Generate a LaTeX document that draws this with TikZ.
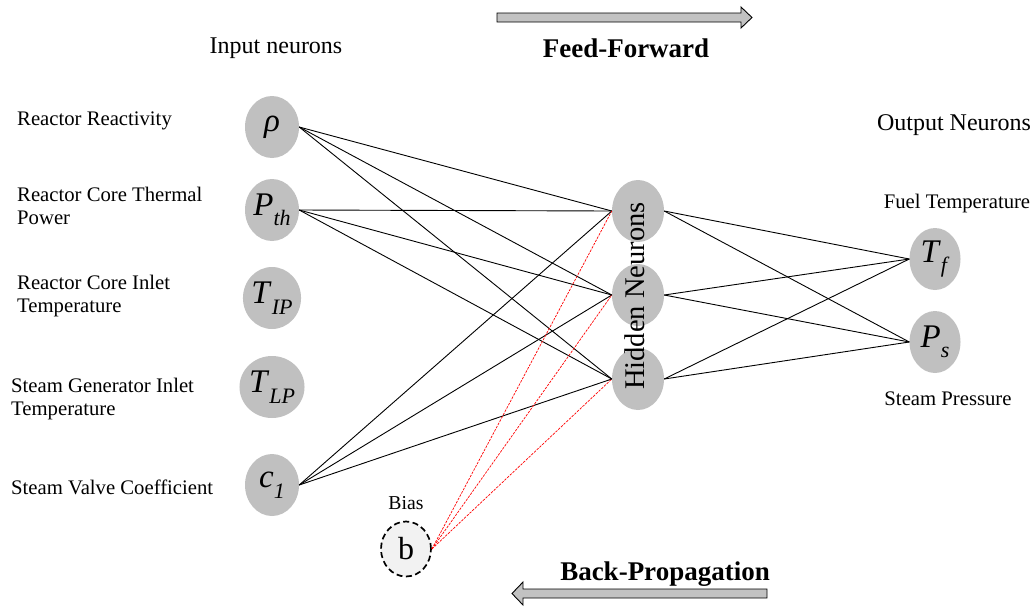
\documentclass[tikz,border=0pt]{standalone}
\usepackage{fontspec}
\setmainfont{Liberation Serif}
\usepackage{xcolor}
\definecolor{neurongray}{RGB}{192,192,192}
\definecolor{biasgray}{RGB}{242,242,242}
\definecolor{arrowgray}{RGB}{194,194,194}
\usepackage{tikz}
\usetikzlibrary{shapes.geometric}
\newcommand{\nsym}[2]{\textit{#1}\raisebox{-0.32em}{\fontsize{22}{22}\selectfont\textit{#2}}}

\begin{document}
\begin{tikzpicture}[x=1pt,y=-1pt,
        neuron/.style={ellipse,fill=neurongray,inner sep=0pt,minimum width=54pt,minimum height=62pt,font=\fontsize{33}{33}\selectfont},
        feature/.style={anchor=west,align=left,inner sep=0pt,font=\fontsize{20.7}{23.5}\selectfont},
        heading/.style={anchor=base,inner sep=0pt,font=\fontsize{24}{24}\selectfont},
        flow/.style={anchor=base,inner sep=0pt,font=\fontsize{27}{27}\selectfont\bfseries},
        link/.style={line width=0.9pt},
        biaslink/.style={red,line width=0.7pt,dash pattern=on 2.5pt off 1.2pt}]
        \useasboundingbox (0,0) rectangle (1035,606);

        % headings and flow arrows
        \node[heading] (tin) at (276,53) {Input neurons};
        \node[heading] (tout) at (954,130) {Output Neurons};
        \node[flow] (ff) at (626,57) {Feed-Forward};
        \node[flow] (bp) at (665,580) {Back-Propagation};
        \draw[fill=arrowgray,line width=0.9pt] (497,13) -- (741,13) -- (741,7) -- (752,17.5) -- (741,28) -- (741,22) -- (497,22) -- cycle;
        \draw[fill=arrowgray,line width=0.9pt] (767,589) -- (523,589) -- (523,582) -- (512,593.5) -- (523,605) -- (523,598) -- (767,598) -- cycle;

        % input side
        \node[feature] (f0) at (17,121) {Reactor Reactivity};
        \node[feature] (f1) at (17,206) {Reactor Core Thermal\\Power};
        \node[feature] (f2) at (17,296) {Reactor Core Inlet\\Temperature};
        \node[feature] (f3) at (11,399) {Steam Generator Inlet\\Temperature};
        \node[feature] (f4) at (11,487) {Steam Valve Coefficient};

        \node[neuron] (i0) at (272,127) {\textit{ρ}};
        \node[neuron] (i1) at (272,210) {\nsym{P}{th}};
        \node[neuron] (i2) at (272,298) {\nsym{T}{IP}};
        \node[neuron] (i3) at (272,387) {\nsym{T}{LP}};
        \node[neuron] (i4) at (272,485) {\nsym{c}{1}};

        % hidden layer
        \node[neuron,minimum width=52pt] (h0) at (638,211) {};
        \node[neuron,minimum width=52pt] (h1) at (638,295) {};
        \node[neuron,minimum width=52pt] (h2) at (638,379) {};

        % outputs
        \node[neuron,minimum width=51pt] (o0) at (935,259) {\nsym{T}{f}};
        \node[neuron,minimum width=51pt] (o1) at (935,342) {\nsym{P}{s}};
        \node[feature,anchor=center] (fo0) at (957,204) {Fuel Temperature};
        \node[feature,anchor=center] (fo1) at (948,399) {Steam Pressure};

        % bias
        \node[ellipse,draw,line width=1.7pt,dash pattern=on 6pt off 3.5pt,fill=biasgray,inner sep=0pt,minimum width=50pt,minimum height=55pt,font=\fontsize{32}{32}\selectfont] (b) at (406,549) {b};
        \node[feature,anchor=center,font=\fontsize{19.7}{20}\selectfont] (tb) at (406,503) {Bias};

        \draw[link] (i0.east) -- (h0.west);
        \draw[link] (i0.east) -- (h1.west);
        \draw[link] (i0.east) -- (h2.west);
        \draw[link] (i1.east) -- (h0.west);
        \draw[link] (i1.east) -- (h1.west);
        \draw[link] (i1.east) -- (h2.west);
        \draw[link] (i4.east) -- (h0.west);
        \draw[link] (i4.east) -- (h1.west);
        \draw[link] (i4.east) -- (h2.west);
        \draw[biaslink] (b.east) -- (h0.west);
        \draw[biaslink] (b.east) -- (h1.west);
        \draw[biaslink] (b.east) -- (h2.west);
        \draw[link] (h0.east) -- (o0.west);
        \draw[link] (h0.east) -- (o1.west);
        \draw[link] (h1.east) -- (o0.west);
        \draw[link] (h1.east) -- (o1.west);
        \draw[link] (h2.east) -- (o0.west);
        \draw[link] (h2.east) -- (o1.west);

        \node[rotate=90,inner sep=0pt,font=\fontsize{28.5}{28.5}\selectfont] (hid) at (635,296) {Hidden Neurons};
    \end{tikzpicture}
\end{document}
